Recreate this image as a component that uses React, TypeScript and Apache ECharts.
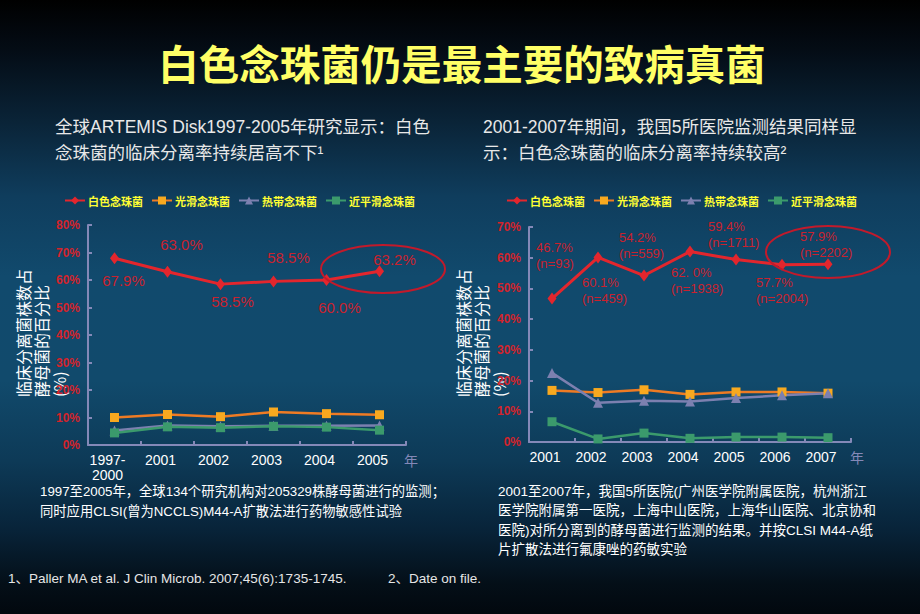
import React, { useEffect, useRef } from "react";
import * as echarts from "echarts";

const TITLE = "白色念珠菌仍是最主要的致病真菌";
const LEFT_SUBTITLE = "全球ARTEMIS Disk1997-2005年研究显示：白色\n念珠菌的临床分离率持续居高不下¹";
const RIGHT_SUBTITLE = "2001-2007年期间，我国5所医院监测结果同样显\n示：白色念珠菌的临床分离率持续较高²";
const Y_TITLE = "临床分离菌株数占\n酵母菌的百分比\n(%)";
const X_NAME = "年";
const LEFT_NOTE = "1997至2005年，全球134个研究机构对205329株酵母菌进行的监测；\n同时应用CLSI(曾为NCCLS)M44-A扩散法进行药物敏感性试验";
const RIGHT_NOTE =
  "2001至2007年，我国5所医院(广州医学院附属医院，杭州浙江\n医学院附属第一医院，上海中山医院，上海华山医院、北京协和\n医院)对所分离到的酵母菌进行监测的结果。并按CLSI M44-A纸\n片扩散法进行氟康唑的药敏实验";
const FOOT_1 = "1、Paller MA et al. J Clin Microb. 2007;45(6):1735-1745.";
const FOOT_2 = "2、Date on file.";

const SERIES_NAMES = ["白色念珠菌", "光滑念珠菌", "热带念珠菌", "近平滑念珠菌"];

// Left chart (ARTEMIS)
const LEFT_YEARS = ["1997-\n2000", "2001", "2002", "2003", "2004", "2005"];
const LEFT_ALBICANS = [67.9, 63.0, 58.5, 59.5, 60.0, 63.2];
const LEFT_ALBICANS_LABELS = ["67.9%", "63.0%", "58.5%", "58.5%", "60.0%", "63.2%"];
const LEFT_GLABRATA = [10.0, 11.1, 10.3, 12.0, 11.4, 11.0];
const LEFT_TROPICALIS = [5.3, 7.1, 6.8, 7.0, 7.0, 7.1];
const LEFT_PARAPSILOSIS = [4.4, 6.6, 6.3, 6.8, 6.5, 5.4];
const LEFT_Y_MAX = 80;

// Right chart (China, 5 hospitals)
const RIGHT_YEARS = ["2001", "2002", "2003", "2004", "2005", "2006", "2007"];
const RIGHT_ALBICANS = [46.7, 60.1, 54.2, 62.0, 59.4, 57.7, 57.9];
const RIGHT_ALBICANS_LABELS = ["46.7%", "60.1%", "54.2%", "62. 0%", "59.4%", "57.7%", "57.9%"];
const RIGHT_ALBICANS_N = [93, 459, 559, 1938, 1711, 2004, 2202];
const RIGHT_GLABRATA = [16.8, 16.1, 17.0, 15.5, 16.3, 16.3, 15.9];
const RIGHT_TROPICALIS = [22.5, 12.8, 13.4, 13.2, 14.3, 15.2, 15.9];
const RIGHT_PARAPSILOSIS = [6.6, 1.0, 2.9, 1.2, 1.6, 1.6, 1.4];
const RIGHT_Y_MAX = 70;
const Y_INTERVAL = 10;

// label placement (layout, not data)
const LEFT_LABEL_OFFSETS = [[9, 22], [14, -27], [12, 17], [15, -24], [13, 27], [15, -12]];
const RIGHT_LABEL_OFFSETS = [[-16, -43], [-16, 33], [-25, -30], [-19, 29], [-28, -25], [-26, 26], [-28, -20]];

const FONT = "'Liberation Sans', Arial, 'Noto Sans CJK SC', sans-serif";
const CJK = "'Noto Sans CJK SC', sans-serif";
const AXIS = "#8489b8";
const RED = "#e3262d";
const LABEL_RED = "#c9222e";
const ORANGE_LINE = "#ee7b24";
const ORANGE_SYM = "#f8a91f";
const PURPLE = "#7c80b0";
const GREEN = "#3b9a6c";
const YELLOW = "#ffff33";

function makeSeries(
  gi: number,
  albicans: number[],
  albLabels: string[],
  offsets: number[][],
  glabrata: number[],
  tropicalis: number[],
  parapsilosis: number[],
  multi: boolean,
  ns?: number[]
) {
  const common = { xAxisIndex: gi, yAxisIndex: gi, type: "line", z: 5 };
  return [
    {
      ...common,
      name: SERIES_NAMES[0],
      symbol: "diamond",
      symbolSize: [9, 12],
      itemStyle: { color: RED },
      lineStyle: { color: RED, width: 3 },
      z: 6,
      data: albicans.map((v, i) => ({
        value: v,
        label: {
          show: true,
          position: "inside",
          offset: offsets[i],
          align: multi ? "left" : "center",
          verticalAlign: "middle",
          formatter: multi ? `${albLabels[i]}\n(n=${ns![i]})` : albLabels[i],
          color: LABEL_RED,
          fontSize: multi ? 13 : 15,
          lineHeight: 16,
          fontFamily: FONT,
        },
      })),
    },
    {
      ...common,
      name: SERIES_NAMES[1],
      symbol: "rect",
      symbolSize: 9,
      itemStyle: { color: ORANGE_SYM },
      lineStyle: { color: ORANGE_LINE, width: 2.5 },
      data: glabrata,
    },
    {
      ...common,
      name: SERIES_NAMES[2],
      symbol: "triangle",
      symbolSize: 10,
      itemStyle: { color: PURPLE },
      lineStyle: { color: PURPLE, width: 2.5 },
      data: tropicalis,
    },
    {
      ...common,
      name: SERIES_NAMES[3],
      symbol: "rect",
      symbolSize: 9,
      itemStyle: { color: GREEN },
      lineStyle: { color: GREEN, width: 2.5 },
      data: parapsilosis,
    },
  ];
}

function xAxisCfg(gi: number, data: string[]) {
  return {
    gridIndex: gi,
    type: "category",
    data,
    boundaryGap: true,
    axisLine: { show: true, lineStyle: { color: AXIS, width: 2 } },
    axisTick: { show: true, inside: true, length: 4, lineStyle: { color: AXIS, width: 2 } },
    axisLabel: {
      interval: 0,
      color: "#ffffff",
      fontSize: 14,
      lineHeight: 15,
      margin: 7,
      padding: [0, 14, 0, 0],
      fontFamily: FONT,
    },
    splitLine: { show: false },
  };
}

function yAxisCfg(gi: number, max: number) {
  return {
    gridIndex: gi,
    type: "value",
    min: 0,
    max,
    interval: Y_INTERVAL,
    axisLine: { show: true, lineStyle: { color: AXIS, width: 2 } },
    axisTick: { show: true, inside: true, length: 4, lineStyle: { color: AXIS, width: 2 } },
    axisLabel: {
      formatter: "{value}%",
      color: "#d4232b",
      fontWeight: "bold",
      fontSize: 12,
      margin: 8,
      fontFamily: FONT,
    },
    splitLine: { show: false },
  };
}

function legendCfg(left: number) {
  return {
    data: SERIES_NAMES,
    left,
    top: 190,
    itemWidth: 20,
    itemHeight: 10,
    itemGap: 8,
    selectedMode: false,
    textStyle: { color: YELLOW, fontSize: 11, fontWeight: "bold", fontFamily: CJK, padding: [0, 0, 0, -2] },
  };
}

function textEl(x: number, y: number, text: string, style: any, extra: any = {}) {
  return { type: "text", x, y, silent: true, ...extra, style: { text, ...style } };
}

export default function App() {
  const ref = useRef<HTMLDivElement>(null);
  useEffect(() => {
    if (!ref.current) return;
    const chart = echarts.init(ref.current, undefined, { renderer: "svg" });
    const option: any = {
      animation: false,
      backgroundColor: "transparent",
      legend: [legendCfg(59), legendCfg(501)],
      grid: [
        { left: 88, top: 225, width: 318, height: 220 },
        { left: 529, top: 227, width: 322, height: 215 },
      ],
      xAxis: [xAxisCfg(0, LEFT_YEARS), xAxisCfg(1, RIGHT_YEARS)],
      yAxis: [yAxisCfg(0, LEFT_Y_MAX), yAxisCfg(1, RIGHT_Y_MAX)],
      series: [
        ...makeSeries(0, LEFT_ALBICANS, LEFT_ALBICANS_LABELS, LEFT_LABEL_OFFSETS, LEFT_GLABRATA, LEFT_TROPICALIS, LEFT_PARAPSILOSIS, false),
        ...makeSeries(1, RIGHT_ALBICANS, RIGHT_ALBICANS_LABELS, RIGHT_LABEL_OFFSETS, RIGHT_GLABRATA, RIGHT_TROPICALIS, RIGHT_PARAPSILOSIS, true, RIGHT_ALBICANS_N),
      ],
      graphic: [
        textEl(462, 62, TITLE, {
          fill: "#ffff66",
          fontSize: 40.5,
          fontWeight: "bold",
          fontFamily: CJK,
          align: "center",
          verticalAlign: "middle",
        }),
        textEl(55, 114, LEFT_SUBTITLE, {
          fill: "#e8e8e8",
          fontSize: 17.5,
          lineHeight: 26,
          fontFamily: FONT,
          align: "left",
          verticalAlign: "top",
        }),
        textEl(483, 114, RIGHT_SUBTITLE, {
          fill: "#e8e8e8",
          fontSize: 17.5,
          lineHeight: 26,
          fontFamily: FONT,
          align: "left",
          verticalAlign: "top",
        }),
        textEl(14, 397, Y_TITLE, {
          fill: "#ffffff",
          fontSize: 16,
          lineHeight: 18,
          fontFamily: CJK,
          align: "left",
          verticalAlign: "top",
        }, { rotation: Math.PI / 2 }),
        textEl(454, 397, Y_TITLE, {
          fill: "#ffffff",
          fontSize: 16,
          lineHeight: 18,
          fontFamily: CJK,
          align: "left",
          verticalAlign: "top",
        }, { rotation: Math.PI / 2 }),
        textEl(411, 460, X_NAME, {
          fill: AXIS,
          fontSize: 14,
          fontFamily: CJK,
          align: "center",
          verticalAlign: "middle",
        }),
        textEl(857, 457, X_NAME, {
          fill: AXIS,
          fontSize: 14,
          fontFamily: CJK,
          align: "center",
          verticalAlign: "middle",
        }),
        textEl(40, 481, LEFT_NOTE, {
          fill: "#ffffff",
          fontSize: 13.3,
          lineHeight: 20,
          fontFamily: FONT,
          align: "left",
          verticalAlign: "top",
        }),
        textEl(498, 482, RIGHT_NOTE, {
          fill: "#ffffff",
          fontSize: 13.5,
          lineHeight: 19.3,
          fontFamily: FONT,
          align: "left",
          verticalAlign: "top",
        }),
        textEl(8, 578, FOOT_1, {
          fill: "#e6e6e6",
          fontSize: 13.5,
          fontFamily: FONT,
          align: "left",
          verticalAlign: "middle",
        }),
        textEl(388, 578, FOOT_2, {
          fill: "#e6e6e6",
          fontSize: 13.5,
          fontFamily: FONT,
          align: "left",
          verticalAlign: "middle",
        }),
        {
          type: "ellipse",
          silent: true,
          z: 10,
          shape: { cx: 383, cy: 269, rx: 62, ry: 24 },
          style: { fill: "none", stroke: "#c21a2b", lineWidth: 2 },
        },
        {
          type: "ellipse",
          silent: true,
          z: 10,
          shape: { cx: 828, cy: 252, rx: 62, ry: 26 },
          style: { fill: "none", stroke: "#c21a2b", lineWidth: 2 },
        },
      ],
    };
    chart.setOption(option);
    return () => chart.dispose();
  }, []);
  return (
    <div
      ref={ref}
      style={{
        position: "fixed",
        left: 0,
        top: 0,
        width: 920,
        height: 614,
        background:
          "linear-gradient(180deg, #000000 0%, #040c15 8%, #0a2438 20%, #0f3d5d 32%, #114a6d 45%, #114a6c 62%, #0d3a57 75%, #08243a 86%, #040f18 95%, #02080e 100%)",
      }}
    />
  );
}
